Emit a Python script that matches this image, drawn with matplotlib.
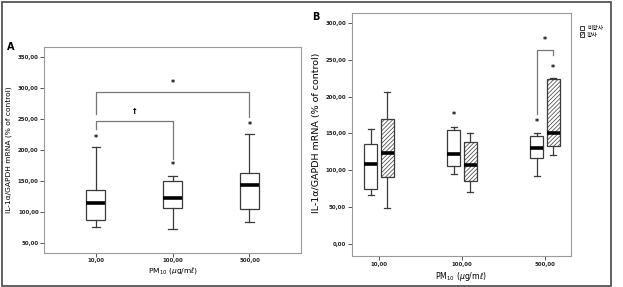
import matplotlib.pyplot as plt
import matplotlib.patches as patches

plt.rcParams['font.family'] = ['DejaVu Sans', 'Noto Sans CJK KR']
plt.rcParams['hatch.color'] = '#666666'
plt.rcParams['hatch.linewidth'] = 0.5

# Panel A data (one box per PM10 dose)
doses = ['10,00', '100,00', '500,00']
a_low = [75, 73, 83]
a_q1 = [86, 106, 105]
a_med = [115, 123, 143]
a_q3 = [135, 149, 162]
a_high = [205, 158, 225]
a_star = [218, 174, 239]

# Panel B data (non-dust vs dust)
b_groups = ['비황사', '황사']
b_low = [[66, 95, 92], [48, 70, 121]]
b_q1 = [[74, 106, 117], [90, 85, 133]]
b_med = [[108, 122, 130], [123, 107, 151]]
b_q3 = [[136, 154, 147], [169, 138, 224]]
b_high = [[156, 159, 150], [206, 150, 225]]
b_star = [[None, 174, 165], [None, None, 238]]

edge = '#3a3a3a'
spine = '#9a9a9a'

fig = plt.figure(figsize=(6.23, 2.87), dpi=100)

# outer frame
fig.patches.append(patches.Rectangle((1.5 / 623, 1.5 / 287), 609.5 / 623, 283.5 / 287,
                                     transform=fig.transFigure, fill=False,
                                     edgecolor='#555555', linewidth=1.3))


def style_axes(ax):
    for s in ax.spines.values():
        s.set_color(spine)
        s.set_linewidth(0.8)
    ax.tick_params(length=3, width=0.7, color='#555555', labelsize=3.9, pad=1)
    for t in ax.get_xticklabels() + ax.get_yticklabels():
        t.set_fontweight('bold')
        t.set_color('#222222')


def stats(low, q1, med, q3, high):
    return [dict(whislo=l, q1=a, med=m, q3=b, whishi=h, fliers=[])
            for l, a, m, b, h in zip(low, q1, med, q3, high)]


box_kw = dict(patch_artist=True, showfliers=False,
              medianprops=dict(color='black', linewidth=2.6, solid_capstyle='butt'),
              whiskerprops=dict(color=edge, linewidth=0.9),
              capprops=dict(color=edge, linewidth=0.9))
star_kw = dict(ha='center', va='center', fontsize=5.8, fontweight='bold')

# ---------- Panel A ----------
axA = fig.add_axes([0.0711, 0.1195, 0.412, 0.7167])
posA = [0, 1, 2]
bp = axA.bxp(stats(a_low, a_q1, a_med, a_q3, a_high), positions=posA, widths=0.245,
             capwidths=0.11, **box_kw)
for b in bp['boxes']:
    b.set_facecolor('white')
    b.set_edgecolor(edge)
    b.set_linewidth(0.9)
for x, y in zip(posA, a_star):
    axA.text(x, y, '*', **star_kw)

axA.set_xlim(-0.67, 2.67)
axA.set_ylim(34, 366)
axA.set_yticks(range(50, 351, 50))
axA.set_yticklabels([f'{v},00' for v in range(50, 351, 50)])
axA.set_xticks(posA)
axA.set_xticklabels(doses)

# significance brackets
br = dict(color='#777777', linewidth=0.9)
axA.plot([0, 0, 2, 2], [258, 293, 293, 253], **br)
axA.text(1.0, 307, '*', **star_kw)
axA.plot([0, 0, 1, 1], [233, 246, 246, 186], **br)
axA.text(0.5, 263, '†', ha='center', va='center', fontsize=5, fontweight='bold')

axA.set_ylabel('IL-1α/GAPDH mRNA (% of control)', fontsize=5.4)
axA.yaxis.set_label_coords(-0.125, 0.5)
axA.set_xlabel('PM$_{10}$ ($\\mu$g/m$\\ell$)', fontsize=5.4)
axA.xaxis.set_label_coords(0.5, -0.062)
axA.text(-0.13, 1.0, 'A', transform=axA.transAxes, fontsize=7, fontweight='bold',
         ha='center', va='center')
style_axes(axA)

# ---------- Panel B ----------
axB = fig.add_axes([0.5645, 0.108, 0.3515, 0.8467])
offsets = [-0.1, 0.1]
for g in range(2):
    pos = [i + offsets[g] for i in range(3)]
    bp = axB.bxp(stats(b_low[g], b_q1[g], b_med[g], b_q3[g], b_high[g]), positions=pos,
                 widths=0.155, capwidths=0.07, **box_kw)
    for b in bp['boxes']:
        b.set_facecolor('white')
        b.set_edgecolor(edge)
        b.set_linewidth(0.9)
        if g == 1:
            b.set_hatch('////////')
    for x, y in zip(pos, b_star[g]):
        if y is not None:
            axB.text(x, y, '*', **star_kw)

axB.plot([1.9, 1.9, 2.1, 2.1], [176, 264, 264, 257], **br)
axB.text(2.0, 277, '*', **star_kw)

axB.set_xlim(-0.33, 2.31)
axB.set_ylim(-17, 314)
axB.set_yticks(range(0, 301, 50))
axB.set_yticklabels([f'{v},00' for v in range(0, 301, 50)])
axB.set_xticks([0, 1, 2])
axB.set_xticklabels(doses)
axB.set_ylabel('IL-1α/GAPDH mRNA (% of control)', fontsize=6.8)
axB.yaxis.set_label_coords(-0.14, 0.505)
axB.set_xlabel('PM$_{10}$ ($\\mu$g/m$\\ell$)', fontsize=5.6)
axB.xaxis.set_label_coords(0.5, -0.058)
axB.text(-0.165, 0.985, 'B', transform=axB.transAxes, fontsize=7, fontweight='bold',
         ha='center', va='center')
style_axes(axB)

# legend outside panel B
handles = [patches.Patch(facecolor='white', edgecolor=edge, linewidth=0.7),
           patches.Patch(facecolor='white', edgecolor=edge, linewidth=0.7, hatch='//////')]
fig.legend(handles, b_groups, loc='upper left', bbox_to_anchor=(577 / 623, 1 - 23 / 287),
           frameon=False, handlelength=0.7, handleheight=0.7,
           handletextpad=0.5, labelspacing=0.25, borderpad=0,
           prop={'family': ['Noto Sans CJK KR'], 'size': 4.2})

fig.savefig('out.png', dpi=100)
